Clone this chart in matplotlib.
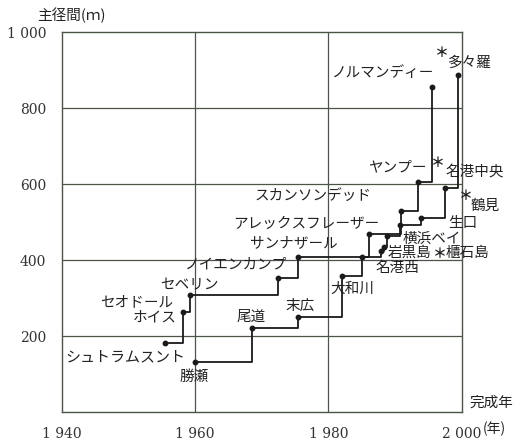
import matplotlib
matplotlib.use("Agg")
import matplotlib.pyplot as plt

plt.rcParams['font.family'] = ['Noto Sans CJK JP', 'DejaVu Sans']

# World bridges (completion year, main span m)
world_names = ["シュトラムスント", "ホイス", "セオドール", "セベリン", "ノイエンカンプ",
               "サンナザール", "アレックスフレーザー", "スカンソンデッド", "ヤンプー", "ノルマンディー"]
world_years = [1955.5, 1958.2, 1959.3, 1972.5, 1975.5, 1986.1, 1990.9, 1993.4, 1995.5]
world_spans = [182, 263, 309, 354, 407, 469, 530, 606, 857]

# Japanese bridges
jp_names = ["勝瀬", "尾道", "末広", "大和川", "名港西", "岩黒島", "櫃石島", "横浜ベイ",
            "生口", "鶴見", "名港中央", "多々羅"]
jp_years = [1960.0, 1968.6, 1975.5, 1982.1, 1985.1, 1987.9, 1988.3, 1988.8,
            1990.8, 1993.9, 1997.5, 1999.5]
jp_spans = [132, 222, 251, 359, 409, 425, 435, 464, 492, 510, 589, 888]

x_ticks = [1940, 1960, 1980, 2000]
x_ticklabels = ["1 940", "1 960", "1 980", "2 000"]
y_ticks = [200, 400, 600, 800, 1000]
y_ticklabels = ["200", "400", "600", "800", "1 000"]

fig = plt.figure(figsize=(5.22, 4.40), dpi=100)
ax = fig.add_axes([0.1182, 0.0636, 0.7663, 0.863])
ax.set_xlim(1940, 2000)
ax.set_ylim(0, 1000)

lc = '#1a1a1a'
ax.plot(world_years, world_spans, drawstyle='steps-post', color=lc, lw=1.3, zorder=3)
ax.plot(world_years, world_spans, 'o', color=lc, ms=3.2, zorder=4)
ax.plot(jp_years, jp_spans, drawstyle='steps-post', color=lc, lw=1.3, zorder=3)
ax.plot(jp_years, jp_spans, 'o', color=lc, ms=3.2, zorder=4)

for v in [1960, 1980]:
    ax.axvline(v, color='#4a5548', lw=0.9, zorder=1)
for v in [200, 400, 600, 800]:
    ax.axhline(v, color='#4a5548', lw=0.9, zorder=1)

for s in ax.spines.values():
    s.set_color('#4a5548')
    s.set_linewidth(1.0)

ax.set_xticks(x_ticks)
ax.set_xticklabels(x_ticklabels, family='DejaVu Serif', fontsize=10)
ax.set_yticks(y_ticks)
ax.set_yticklabels(y_ticklabels, family='DejaVu Serif', fontsize=10)
ax.tick_params(length=0, pad=11, colors='#333333')

fs = 10.5
tc = '#222222'
def lab(px, py, s, ha='left', size=fs):
    # px, py in figure pixels from top-left
    fig.text(px / 522, 1 - py / 440, s, ha=ha, va='center', fontsize=size, color=tc)

def star(px, py):
    fig.text(px / 522, 1 - py / 440, "＊", ha='center', va='center', fontsize=10,
             color=tc, fontweight='bold')

# World labels
lab(65, 357, world_names[0], size=10.8)
lab(133, 318, world_names[1])
lab(100, 302, world_names[2])
lab(160, 285, world_names[3])
lab(185, 265, world_names[4])
lab(250, 243, world_names[5])
lab(233, 224, world_names[6])
lab(255, 196, world_names[7])
lab(368, 167, world_names[8])
lab(332, 73, world_names[9])

# Japanese labels
lab(180, 377, jp_names[0])
lab(237, 317, jp_names[1])
lab(285, 306, jp_names[2])
lab(330, 289, jp_names[3])
lab(375, 268, jp_names[4])
lab(388, 253, jp_names[5])
lab(446, 253, jp_names[6])
star(440, 254)
lab(403, 239, jp_names[7])
lab(448, 223, jp_names[8])
lab(471, 206, jp_names[9])
star(466, 196)
lab(445, 172, jp_names[10])
star(438, 163)
lab(447, 63, jp_names[11])
star(442, 53)

# axis titles
lab(37, 15, "主径間(ｍ)", size=10.5)
lab(470, 403, "完成年", size=10.5)
fig.text(483 / 522, 1 - 429 / 440, "(年)", ha='left', va='center', fontsize=10, color=tc)

fig.savefig("out.png", dpi=100, facecolor='white')
